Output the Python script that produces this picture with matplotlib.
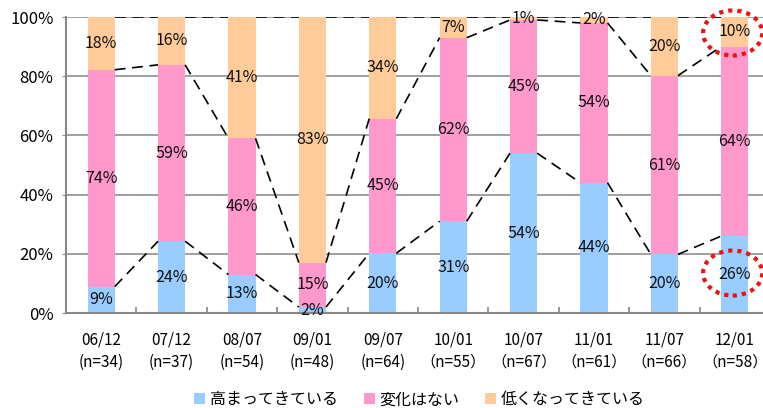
import numpy as np
import matplotlib.pyplot as plt
from matplotlib.patches import Ellipse

plt.rcParams['font.family'] = ['Noto Sans CJK JP', 'DejaVu Sans']

periods = ['06/12', '07/12', '08/07', '09/01', '09/07',
           '10/01', '10/07', '11/01', '11/07', '12/01']
counts = ['(n=34)', '(n=37)', '(n=54)', '(n=48)', '(n=64)',
          '（n=55）', '（n=67）', '（n=61）', '（n=66）', '（n=58）']
higher = [9, 24, 13, 2, 20, 31, 54, 44, 20, 26]
same = [74, 59, 46, 15, 45, 62, 45, 54, 61, 64]
lower = [18, 16, 41, 83, 34, 7, 1, 2, 20, 10]
series_names = ['高まってきている', '変化はない', '低くなってきている']
colors = ['#99CCFF', '#FF99CC', '#FFCC99']

vals = np.array([higher, same, lower], dtype=float)
share = vals / vals.sum(axis=0) * 100  # 100% stacked

fig = plt.figure(figsize=(7.63, 4.08), dpi=100)
ax = fig.add_axes([66 / 763, 1 - 313 / 408, 704 / 763, 296 / 408])

x = np.arange(len(periods))
w = 0.385
bottom = np.zeros(len(periods))
for k in range(3):
    ax.bar(x, share[k], w, bottom=bottom, color=colors[k],
           label=series_names[k], zorder=2)
    for i in range(len(periods)):
        ax.text(x[i], bottom[i] + share[k][i] / 2, f'{int(vals[k][i])}%',
                ha='center', va='center', fontsize=11.5, color='#111111', zorder=4)
    bottom = bottom + share[k]
    # series lines between neighbouring bars
    for i in range(len(periods) - 1):
        ax.plot([x[i] + w / 2, x[i + 1] - w / 2], [bottom[i], bottom[i + 1]],
                color='black', lw=1.2, dashes=(6.5, 4), zorder=3)

# highlight the latest figures
for yc in (94.6, 13.5):
    ax.add_patch(Ellipse((9 - 0.03, yc), 0.84, 15.2, fill=False, ec='#EE1111',
                         lw=3, ls=(0, (1, 1.2)), clip_on=False, zorder=5))

ax.set_xlim(-0.5, 9.5)
ax.set_ylim(0, 100)
ax.set_yticks(range(0, 101, 20))
ax.set_yticklabels([f'{v}%' for v in range(0, 101, 20)], fontsize=12)
ax.set_xticks(x)
ax.set_xticklabels([f'{p}\n{c}' for p, c in zip(periods, counts)],
                   fontsize=11, linespacing=1.45)
ax.set_xticks(np.arange(0.5, 9.5, 1), minor=True)
ax.tick_params(axis='x', which='major', length=0, pad=13)
ax.tick_params(axis='x', which='minor', direction='in', length=4, color='#888888', width=1.2)
ax.tick_params(axis='y', length=3, color='#888888', pad=6)
ax.grid(axis='y', color='#999999', lw=1.3, zorder=0)
for s in ['top', 'right']:
    ax.spines[s].set_visible(False)
for s in ['left', 'bottom']:
    ax.spines[s].set_color('#888888')
    ax.spines[s].set_linewidth(1.5)

fig.legend(loc='center', bbox_to_anchor=(0.55, 0.02), ncol=3, frameon=False,
           fontsize=11.5, handlelength=0.7, handleheight=0.7, handletextpad=0.3,
           columnspacing=1.6)

fig.savefig('out.png', dpi=100)
